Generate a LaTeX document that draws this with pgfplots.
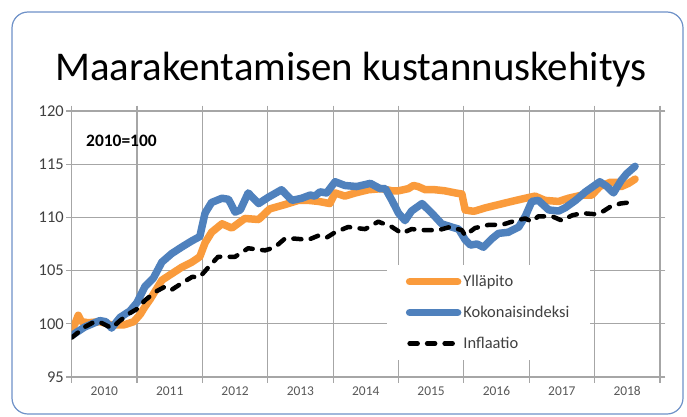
\documentclass[border=0pt]{standalone}
\usepackage{fontspec}
\setmainfont{Carlito}
\usepackage{pgfplots}
\pgfplotsset{compat=1.18}
\definecolor{orangeL}{RGB}{250,155,60}
\definecolor{blueK}{RGB}{79,129,189}
\definecolor{gridc}{RGB}{166,166,166}
\definecolor{framec}{RGB}{110,145,200}
\definecolor{tickc}{RGB}{64,64,64}
\definecolor{xtickc}{RGB}{89,89,89}

\pgfplotstableread{
t v
2010.00 99.5
2010.05 100.0
2010.10 100.8
2010.15 100.2
2010.25 100.1
2010.43 100.2
2010.61 99.9
2010.80 99.9
2010.95 100.2
2011.05 100.9
2011.12 101.6
2011.20 102.3
2011.30 103.3
2011.38 104.1
2011.53 104.7
2011.68 105.3
2011.84 105.8
2011.96 106.3
2012.04 107.6
2012.14 108.6
2012.30 109.4
2012.45 109.0
2012.65 109.9
2012.86 109.8
2013.03 110.8
2013.26 111.2
2013.47 111.6
2013.62 111.6
2013.78 111.5
2013.95 111.3
2014.03 112.3
2014.18 112.0
2014.34 112.3
2014.54 112.6
2014.74 112.7
2014.90 112.5
2015.00 112.5
2015.15 112.7
2015.23 113.0
2015.30 112.9
2015.41 112.6
2015.56 112.6
2015.71 112.5
2015.87 112.3
2015.97 112.2
2016.02 110.7
2016.12 110.6
2016.17 110.6
2016.33 110.9
2016.53 111.2
2016.73 111.5
2016.94 111.8
2017.09 112.0
2017.24 111.6
2017.45 111.5
2017.60 111.8
2017.81 112.1
2017.96 112.1
2018.08 112.9
2018.24 113.3
2018.35 113.3
2018.41 112.9
2018.52 113.2
2018.62 113.6
}\yllapito

\pgfplotstableread{
t v
2010.00 98.9
2010.20 99.7
2010.43 100.3
2010.52 100.2
2010.61 99.6
2010.74 100.6
2010.89 101.2
2011.00 102.0
2011.12 103.5
2011.25 104.3
2011.38 105.8
2011.53 106.6
2011.68 107.2
2011.84 107.8
2011.96 108.2
2012.04 110.4
2012.14 111.4
2012.30 111.8
2012.40 111.7
2012.50 110.5
2012.58 110.7
2012.70 112.3
2012.86 111.3
2013.01 111.9
2013.21 112.6
2013.37 111.6
2013.52 111.8
2013.65 112.1
2013.72 112.0
2013.80 112.4
2013.90 112.3
2014.03 113.35
2014.18 113.0
2014.36 112.9
2014.57 113.2
2014.72 112.7
2014.80 112.7
2014.90 111.6
2015.00 110.4
2015.10 109.7
2015.20 110.6
2015.36 111.3
2015.51 110.4
2015.66 109.4
2015.81 109.1
2015.92 108.9
2016.02 107.9
2016.10 107.4
2016.20 107.5
2016.30 107.2
2016.43 108.0
2016.53 108.5
2016.68 108.6
2016.84 109.1
2016.94 110.1
2017.04 111.5
2017.14 111.6
2017.30 110.7
2017.45 110.6
2017.55 110.9
2017.71 111.6
2017.86 112.4
2017.93 112.7
2018.08 113.35
2018.19 112.9
2018.29 112.3
2018.41 113.5
2018.49 114.1
2018.62 114.8
}\kokonais

\pgfplotstableread{
t v
2010.00 98.7
2010.20 99.7
2010.35 100.2
2010.45 100.1
2010.61 99.6
2010.74 100.3
2010.89 101.0
2011.00 101.4
2011.12 102.2
2011.28 103.0
2011.43 103.5
2011.53 103.2
2011.68 103.8
2011.84 104.4
2011.96 104.4
2012.09 105.3
2012.24 106.3
2012.50 106.3
2012.70 107.1
2012.96 106.9
2013.11 107.2
2013.26 108.0
2013.42 108.0
2013.62 107.9
2013.78 108.3
2013.90 108.1
2014.03 108.6
2014.23 109.1
2014.49 108.9
2014.69 109.6
2014.90 109.1
2015.05 108.5
2015.20 108.9
2015.41 108.8
2015.61 108.8
2015.79 109.1
2015.97 108.8
2016.02 108.3
2016.17 109.0
2016.38 109.3
2016.58 109.3
2016.79 109.7
2016.94 109.9
2017.04 109.6
2017.14 110.1
2017.35 110.1
2017.50 109.7
2017.66 110.2
2017.81 110.4
2018.01 110.3
2018.14 110.6
2018.24 111.0
2018.39 111.3
2018.52 111.4
}\inflaatio

\begin{document}
\begin{tikzpicture}[x=1bp,y=1bp]
\useasboundingbox (0,0) rectangle (687,416);
\draw[framec, line width=1.2bp, rounded corners=16bp, fill=white] (12,2) rectangle (683,404);
\node[font=\fontsize{41}{41}\selectfont, anchor=base, inner sep=0pt] at (351,336) {Maarakentamisen kustannuskehitys};
\begin{axis}[
  at={(71.7bp,39bp)}, anchor=south west,
  scale only axis, width=588.2bp, height=266bp,
  xmin=2010, xmax=2019, ymin=95, ymax=120,
  ytick={95,100,...,120},
  xtick={2010,2011,...,2019},
  xticklabels={},
  extra x ticks={2010.5,2011.5,...,2018.5},
  extra x tick labels={2010,2011,2012,2013,2014,2015,2016,2017,2018},
  extra x tick style={grid=none, major tick length=0pt},
  xmajorgrids, ymajorgrids,
  grid style={gridc, line width=1.2bp},
  axis line style={gridc, line width=1.2bp},
  tick style={gridc, line width=1.2bp},
  tick align=outside,
  major tick length=5.5bp,
  /pgf/number format/assume math mode=true,
  yticklabel style={font=\fontsize{16.5}{16.5}\selectfont, text=tickc, xshift=1bp},
  xticklabel style={font=\fontsize{13.5}{13.5}\selectfont, text=xtickc, yshift=-6bp},
  legend style={at={(0.5355,0.421)}, anchor=north west, draw=none, fill=white,
    font=\fontsize{16.5}{16.5}\selectfont, text=tickc, inner xsep=19bp, inner ysep=8bp,
    row sep=14bp, legend cell align=left},
  legend image code/.code={\draw[#1] (0bp,0bp) -- (48bp,0bp);},
  clip=true,
]
\addplot[orangeL, line width=7.5bp, line join=round, line cap=round] table[x=t,y=v] {\yllapito};
\addlegendentry{Ylläpito}
\addplot[blueK, line width=7.5bp, line join=round, line cap=round] table[x=t,y=v] {\kokonais};
\addlegendentry{Kokonaisindeksi}
\addplot[black, line width=4.5bp, line join=round, line cap=round, dash pattern=on 8bp off 9.5bp] table[x=t,y=v] {\inflaatio};
\addlegendentry{Inflaatio}
\end{axis}
\node[font=\bfseries\fontsize{17.5}{17.5}\selectfont, anchor=west, inner sep=0pt] at (86,275.5) {2010=100};
\end{tikzpicture}
\end{document}
